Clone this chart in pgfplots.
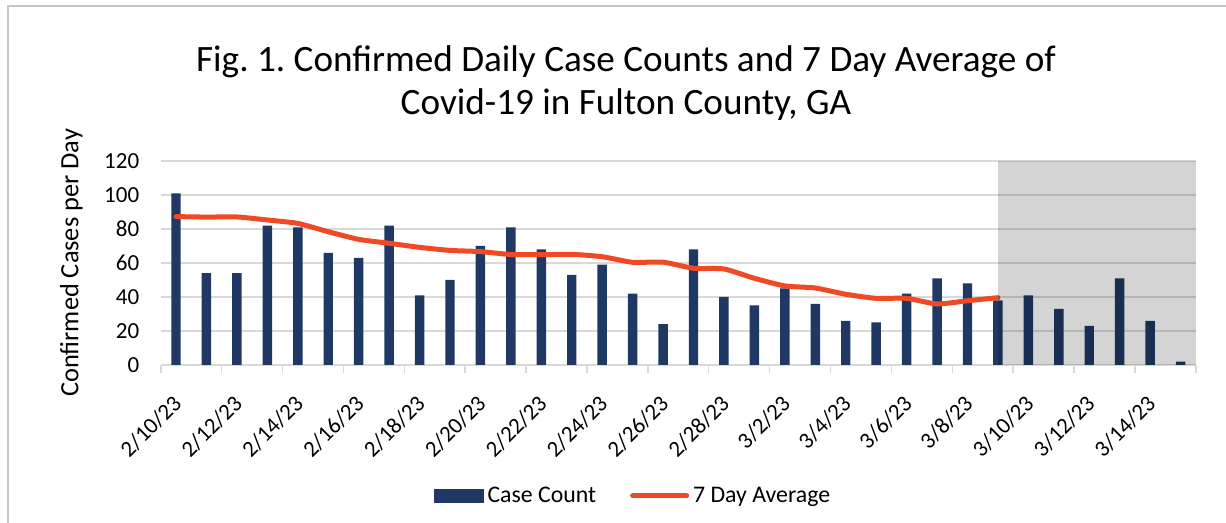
\documentclass[border=0pt]{standalone}
\usepackage{pgfplots}
\pgfplotsset{compat=1.18}
\usepackage{pgfplotstable}
\usepackage{fontspec}
\setmainfont{Carlito}
\frenchspacing
\definecolor{barblue}{HTML}{1F3864}
\definecolor{avgred}{HTML}{EF4A25}
\definecolor{gridgray}{HTML}{D9D9D9}
\definecolor{framegray}{HTML}{C6C6C6}

\pgfplotstableread{
i c
0 101
1 54
2 54
3 82
4 81
5 66
6 63
7 82
8 41
9 50
10 70
11 81
12 68
13 53
14 59
15 42
16 24
17 68
18 40
19 35
20 45
21 36
22 26
23 25
24 42
25 51
26 48
27 38
28 41
29 33
30 23
31 51
32 26
33 2
}\cases

\pgfplotstableread{
i a
0 87.3
1 87.0
2 87.1
3 85.3
4 83.3
5 78.4
6 73.9
7 71.6
8 69.2
9 67.4
10 66.7
11 65.0
12 64.9
13 65.1
14 63.7
15 60.4
16 60.5
17 56.9
18 56.5
19 51.0
20 46.5
21 45.3
22 41.6
23 39.2
24 39.2
25 35.9
26 37.8
27 39.6
}\avg

\begin{document}
\begin{tikzpicture}[x=1pt,y=1pt]
\path[use as bounding box] (0,0) rectangle (613,261.5);
\draw[framegray, line width=1pt] (4,-1) -- (4,258.5) -- (614,258.5);
\node[align=center, font=\fontsize{18.6}{21.5}\selectfont] at (313,219.8)
  {Fig. 1. Confirmed Daily Case Counts and 7 Day Average of\\Covid-19 in Fulton County, GA};
\begin{axis}[
  at={(80.4pt,79pt)}, anchor=south west,
  scale only axis, width=517.5pt, height=102pt,
  xmin=-0.5, xmax=33.5, ymin=0, ymax=120,
  axis x line*=bottom, axis y line*=left,
  y axis line style={draw=none},
  x axis line style={gridgray, line width=0.75pt},
  ytick={0,20,...,120},
  ytick style={draw=none},
  ymajorgrids, grid style={gridgray, line width=0.75pt},
  xtick={0,2,...,32},
  xticklabels={2/10/23,2/12/23,2/14/23,2/16/23,2/18/23,2/20/23,2/22/23,2/24/23,2/26/23,2/28/23,3/2/23,3/4/23,3/6/23,3/8/23,3/10/23,3/12/23,3/14/23},
  major x tick style={draw=none},
  minor xtick={-0.5,1.5,...,33.5},
  minor x tick style={gridgray, line width=0.75pt},
  minor tick length=4pt,
  tick align=outside,
  /pgf/number format/assume math mode=true,
  yticklabel style={font=\fontsize{11.5}{13}\selectfont, xshift=-3pt},
  xticklabel style={font=\fontsize{11.4}{13}\selectfont, xshift=3.2pt, yshift=-10.6pt, rotate=45, anchor=east},
  ylabel={Confirmed Cases per Day},
  ylabel style={font=\fontsize{13.2}{15}\selectfont, at={(axis description cs:-0.0865,0.5)}, anchor=center, rotate=0},
  legend columns=2,
  legend style={at={(axis description cs:0.457,-0.642)}, anchor=center, draw=none,
    font=\fontsize{11.9}{13}\selectfont,
    /tikz/every even column/.append style={column sep=15pt}},
]
\addplot[ybar, bar shift=0pt, bar width=0.31, fill=barblue, draw=none,
  legend image code/.code={\fill[barblue] (0pt,-3.5pt) rectangle (25pt,3.5pt);}]
  table[x=i, y=c] {\cases};
\addlegendentry{Case Count}
\addplot[avgred, line width=2.5pt, smooth, tension=0.35, no marks, line cap=round, line join=round,
  legend image code/.code={\draw[avgred, line width=2.5pt, line cap=round] (0pt,0pt) -- (27pt,0pt);}]
  table[x=i, y=a] {\avg};
\addlegendentry{7 Day Average}
\fill[black, opacity=0.17] (axis cs:27,0) rectangle (axis cs:33.5,120);
\end{axis}
\end{tikzpicture}
\end{document}
